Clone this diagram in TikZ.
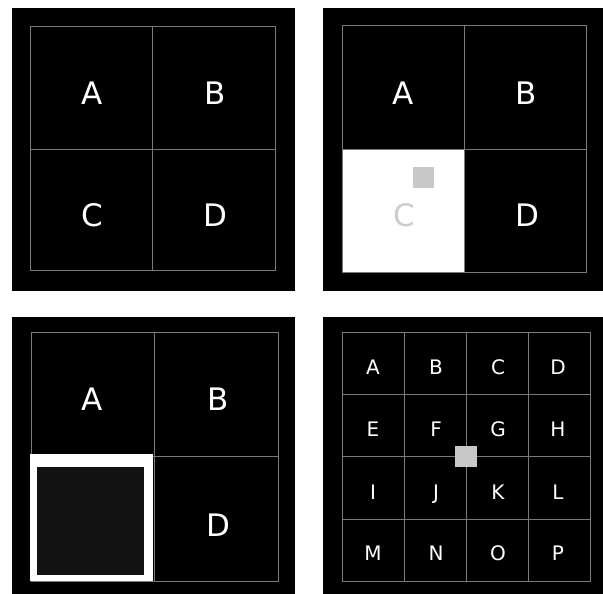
\documentclass[tikz,border=0pt]{standalone}
\usepackage{fontspec}
\setmainfont{DejaVu Sans}
\definecolor{gridc}{HTML}{7A7A7A}
\definecolor{marker}{HTML}{C8C8C8}
\definecolor{darkfill}{HTML}{121212}
\definecolor{ghost}{HTML}{CCCCCC}
\tikzset{
  panel/.style={fill=black, draw=none},
  gridline/.style={draw=gridc, line width=1pt},
  bigletter/.style={text=white, font=\fontsize{31}{31}\selectfont, inner sep=0pt, text height=22.6pt, text depth=0pt, anchor=center},
  smallletter/.style={text=white, font=\fontsize{20}{20}\selectfont, inner sep=0pt, text height=14.6pt, text depth=0pt, anchor=center},
}
\begin{document}
\begin{tikzpicture}[x=1pt, y=-1pt]
\useasboundingbox (0,0) rectangle (603,594);
\fill[white] (0,0) rectangle (603,594);

% Panel 1
\fill[black] (12,8) rectangle (295,291);
\draw[gridline] (30,27) rectangle (275,270);
\draw[gridline] (152,27) -- (152,270);
\draw[gridline] (30,149) -- (275,149);
\node[bigletter] (p1a) at (92,93) {A};
\node[bigletter] (p1b) at (215,93) {B};
\node[bigletter] (p1c) at (92,215) {C};
\node[bigletter] (p1d) at (215,215) {D};

% Panel 2
\fill[black] (323,8) rectangle (603,291);
\fill[white] (342,149) rectangle (464,272);
\draw[gridline] (342,26) rectangle (586,272);
\draw[gridline] (464,26) -- (464,272);
\draw[gridline] (342,149) -- (586,149);
\node[bigletter] (p2a) at (403,93) {A};
\node[bigletter] (p2b) at (526,93) {B};
\node[bigletter, text=ghost] (p2c) at (404,215) {C};
\node[bigletter] (p2d) at (527,215) {D};
\fill[marker] (413,167) rectangle (434,188);

% Panel 3
\fill[black] (12,317) rectangle (295,594);
\draw[gridline] (31,332) rectangle (278,581);
\draw[gridline] (154,332) -- (154,581);
\draw[gridline] (31,456) -- (278,456);
\fill[white] (30,454) rectangle (153,581);
\fill[darkfill] (37,467) rectangle (144,575);
\node[bigletter] (p3a) at (92,399) {A};
\node[bigletter] (p3b) at (218,399) {B};
\node[bigletter] (p3d) at (218,525) {D};

% Panel 4
\fill[black] (323,317) rectangle (603,594);
\draw[gridline] (342,332) rectangle (590,581);
\foreach \xx in {404,466,528} \draw[gridline] (\xx,332) -- (\xx,581);
\foreach \yy in {394,456,519} \draw[gridline] (342,\yy) -- (590,\yy);
\node[smallletter] (q1) at (373,367) {A};
\node[smallletter] (q2) at (436,367) {B};
\node[smallletter] (q3) at (498,367) {C};
\node[smallletter] (q4) at (558,367) {D};
\node[smallletter] (q5) at (373,429) {E};
\node[smallletter] (q6) at (436,429) {F};
\node[smallletter] (q7) at (498,429) {G};
\node[smallletter] (q8) at (558,429) {H};
\node[smallletter] (q9) at (373,492) {I};
\node[smallletter] (q10) at (436,492) {J};
\node[smallletter] (q11) at (498,492) {K};
\node[smallletter] (q12) at (558,492) {L};
\node[smallletter] (q13) at (373,553) {M};
\node[smallletter] (q14) at (436,553) {N};
\node[smallletter] (q15) at (498,553) {O};
\node[smallletter] (q16) at (558,553) {P};
\fill[marker] (455,446) rectangle (477,467);
\end{tikzpicture}
\end{document}
